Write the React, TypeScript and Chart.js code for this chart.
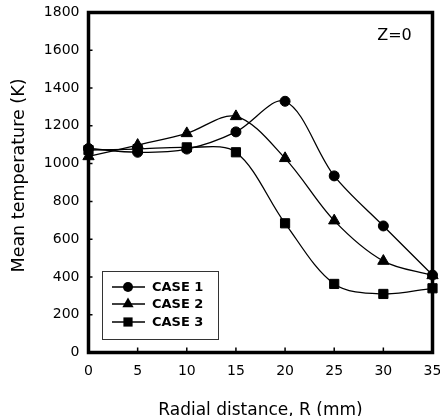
import { useEffect, useRef } from 'react';
import { Chart, registerables } from 'chart.js';

Chart.register(...registerables);

const radialDistance = [0, 5, 10, 15, 20, 25, 30, 35];
const case1 = [1080, 1060, 1077, 1168, 1330, 935, 670, 410];
const case2 = [1038, 1098, 1160, 1250, 1028, 698, 484, 408];
const case3 = [1072, 1077, 1086, 1060, 684, 363, 310, 340];
const seriesLabels = ['CASE 1', 'CASE 2', 'CASE 3'];
const markerStyles = ['circle', 'triangle', 'rect'];
const markerRadii = [5, 6.5, 6.5];
const xTickMarks = [5, 10, 15, 20, 25, 30];
const yTickMarks = [200, 400, 600, 800, 1000, 1200, 1400, 1600];
const xTitle = 'Radial distance, R (mm)';
const yTitle = 'Mean temperature (K)';
const panelLabel = 'Z=0';

const FONT = '"DejaVu Sans", "Liberation Sans", sans-serif';

function drawMarker(ctx: CanvasRenderingContext2D, style: string, x: number, y: number, r: number) {
  ctx.beginPath();
  if (style === 'circle') {
    ctx.arc(x, y, r, 0, Math.PI * 2);
  } else if (style === 'triangle') {
    let rad = 0;
    ctx.moveTo(x + Math.sin(rad) * r, y - Math.cos(rad) * r);
    rad += (Math.PI * 2) / 3;
    ctx.lineTo(x + Math.sin(rad) * r, y - Math.cos(rad) * r);
    rad += (Math.PI * 2) / 3;
    ctx.lineTo(x + Math.sin(rad) * r, y - Math.cos(rad) * r);
    ctx.closePath();
  } else {
    const s = Math.SQRT1_2 * r;
    ctx.rect(x - s, y - s, 2 * s, 2 * s);
  }
  ctx.fill();
}

const framePlugin = {
  id: 'frame',
  beforeDatasetsDraw(chart: any) {
    const { ctx, chartArea: ca, scales } = chart;
    ctx.save();
    ctx.strokeStyle = '#000';
    ctx.lineWidth = 3.5;
    ctx.strokeRect(ca.left, ca.top, ca.right - ca.left, ca.bottom - ca.top);
    ctx.lineWidth = 1.5;
    ctx.beginPath();
    for (const v of xTickMarks) {
      const px = scales.x.getPixelForValue(v);
      ctx.moveTo(px, ca.bottom);
      ctx.lineTo(px, ca.bottom - 5);
    }
    for (const v of yTickMarks) {
      const py = scales.y.getPixelForValue(v);
      ctx.moveTo(ca.left, py);
      ctx.lineTo(ca.left + 4, py);
    }
    ctx.stroke();
    ctx.restore();
  },
};

const annotationsPlugin = {
  id: 'annotations',
  afterDatasetsDraw(chart: any) {
    const { ctx, chartArea: ca } = chart;
    ctx.save();
    ctx.fillStyle = '#000';
    ctx.font = `16px ${FONT}`;
    ctx.textAlign = 'center';
    ctx.textBaseline = 'middle';
    ctx.fillText(panelLabel, ca.right - 38, ca.top + 23);

    ctx.save();
    ctx.translate(19.5, 175.5);
    ctx.rotate(-Math.PI / 2);
    ctx.font = `17.5px ${FONT}`;
    ctx.textAlign = 'center';
    ctx.textBaseline = 'middle';
    ctx.fillText(yTitle, 0, 0);
    ctx.restore();

    const bx = ca.left + 13.5;
    const by = ca.bottom - 81.5;
    const bw = 116;
    const bh = 68;
    ctx.fillStyle = '#fff';
    ctx.fillRect(bx, by, bw, bh);
    ctx.strokeStyle = '#333';
    ctx.lineWidth = 1;
    ctx.strokeRect(bx + 0.5, by + 0.5, bw, bh);
    const rows = [16, 33, 51];
    chart.data.datasets.forEach((ds: any, i: number) => {
      const y = by + rows[i];
      ctx.strokeStyle = '#000';
      ctx.lineWidth = 1.5;
      ctx.beginPath();
      ctx.moveTo(bx + 10, y);
      ctx.lineTo(bx + 43, y);
      ctx.stroke();
      ctx.fillStyle = '#000';
      drawMarker(ctx, markerStyles[i], bx + 26, y, markerRadii[i]);
      ctx.font = `bold 13px ${FONT}`;
      ctx.textAlign = 'left';
      ctx.textBaseline = 'middle';
      ctx.fillText(ds.label, bx + 50, y + 1);
    });
    ctx.restore();
  },
};

export default function App() {
  const canvasRef = useRef<HTMLCanvasElement | null>(null);

  useEffect(() => {
    document.body.style.margin = '0';
    const canvas = canvasRef.current;
    if (!canvas) return;
    const series = [case1, case2, case3];
    const chart = new Chart(canvas, {
      type: 'line',
      data: {
        datasets: series.map((vals, i) => ({
          label: seriesLabels[i],
          data: radialDistance.map((x, j) => ({ x, y: vals[j] })),
          borderColor: '#000',
          borderWidth: 1.3,
          backgroundColor: '#000',
          pointBackgroundColor: '#000',
          pointBorderColor: '#000',
          pointBorderWidth: 1,
          pointStyle: markerStyles[i] as any,
          pointRadius: markerRadii[i],
          tension: 0.33,
          fill: false,
          clip: false as any,
        })),
      },
      options: {
        responsive: false,
        animation: false,
        layout: { padding: { top: 12.5, right: 7, left: 0, bottom: 0 } },
        plugins: {
          legend: { display: false },
          tooltip: { enabled: false },
        },
        scales: {
          x: {
            type: 'linear',
            min: 0,
            max: 35,
            ticks: {
              stepSize: 5,
              color: '#000',
              font: { family: FONT, size: 14 },
              padding: 10,
              maxRotation: 0,
              callback: (v: any) => String(v),
            },
            grid: { display: false, drawTicks: false },
            border: { display: false },
            title: {
              display: true,
              text: xTitle,
              color: '#000',
              font: { family: FONT, size: 17, lineHeight: 1 },
              padding: { top: 0, bottom: -3 },
            },
            afterFit(scale: any) {
              scale.height = 63.5;
              scale.paddingLeft = 0;
              scale.paddingRight = 0;
            },
          },
          y: {
            type: 'linear',
            min: 0,
            max: 1800,
            ticks: {
              stepSize: 200,
              color: '#000',
              font: { family: FONT, size: 14 },
              padding: 9,
              callback: (v: any) => String(v),
            },
            grid: { display: false, drawTicks: false },
            border: { display: false },
            afterFit(scale: any) {
              scale.width = 88.5;
              scale.paddingTop = 0;
              scale.paddingBottom = 0;
            },
          },
        },
      },
      plugins: [framePlugin, annotationsPlugin],
    });
    return () => chart.destroy();
  }, []);

  return (
    <div style={{ width: 440, height: 416 }}>
      <canvas ref={canvasRef} width={440} height={416} />
    </div>
  );
}
